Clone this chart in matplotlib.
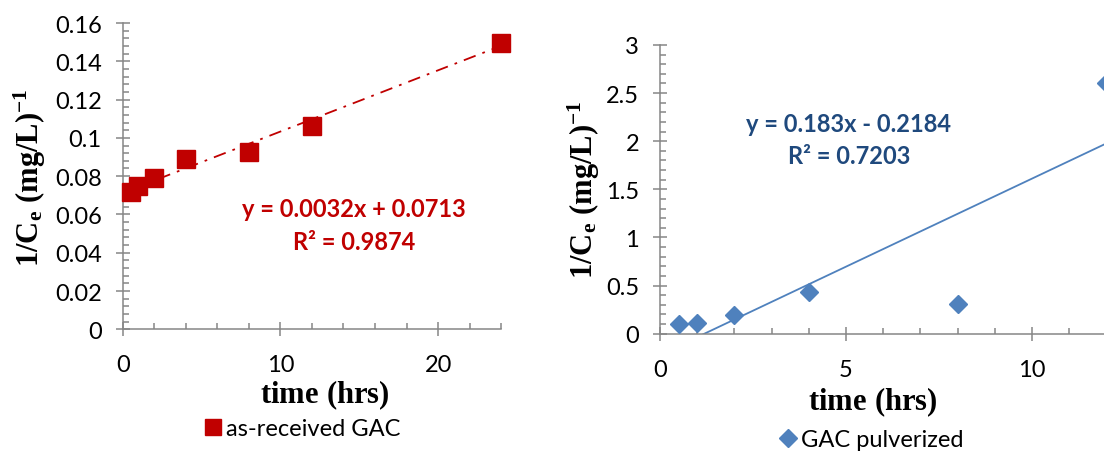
import numpy as np
import matplotlib.pyplot as plt
from matplotlib.ticker import MultipleLocator, FuncFormatter

plt.rcParams['font.family'] = ['Lato', 'DejaVu Sans']
plt.rcParams['mathtext.fontset'] = 'custom'
plt.rcParams['mathtext.rm'] = 'Liberation Serif:bold'
plt.rcParams['mathtext.bf'] = 'Liberation Serif:bold'
plt.rcParams['mathtext.it'] = 'Liberation Serif:bold'

# as-received GAC
t_recv = [0.5, 1, 2, 4, 8, 12, 24]
inv_ce_recv = [0.0717, 0.0747, 0.0792, 0.0888, 0.0926, 0.1061, 0.1496]
fit_recv = (0.0032, 0.0713)
eq_recv = ["y = 0.0032x + 0.0713", "R² = 0.9874"]

# GAC pulverized
t_pulv = [0.5, 1, 2, 4, 8, 12]
inv_ce_pulv = [0.097, 0.115, 0.19, 0.43, 0.31, 2.6]
fit_pulv = (0.183, -0.2184)
eq_pulv = ["y = 0.183x - 0.2184", "R² = 0.7203"]

red = '#C00000'
blue = '#4F81BD'
dblue = '#1F497D'
axcol = '#868686'

W, H = 1104, 452
fig = plt.figure(figsize=(W / 100, H / 100), dpi=100)


def px(x0, y0, x1, y1):
    # pixel box (left, top, right, bottom) -> figure fraction rect
    return [x0 / W, 1 - y1 / H, (x1 - x0) / W, (y1 - y0) / H]


def style_axes(ax, xmaj, xmin, ymaj, ymin):
    for s in ['top', 'right']:
        ax.spines[s].set_visible(False)
    for s in ['left', 'bottom']:
        ax.spines[s].set_color(axcol)
        ax.spines[s].set_linewidth(1.1)
    ax.xaxis.set_major_locator(MultipleLocator(xmaj))
    ax.xaxis.set_minor_locator(MultipleLocator(xmin))
    ax.yaxis.set_major_locator(MultipleLocator(ymaj))
    ax.yaxis.set_minor_locator(MultipleLocator(ymin))
    ax.yaxis.set_major_formatter(FuncFormatter(lambda v, p: '%g' % v))
    ax.tick_params(which='major', direction='inout', length=10, width=1.1,
                   color=axcol, labelsize=17, labelcolor='black')
    ax.tick_params(axis='y', which='major', pad=10)
    ax.tick_params(axis='x', which='major', pad=13)
    ax.tick_params(which='minor', direction='in', length=4.5, width=1.1, color=axcol)


ylab = r'$\mathrm{1/C_e\ (mg/L)^{-1}}$'
xlab = r'$\mathrm{time\ (hrs)}$'

# left panel
ax1 = fig.add_axes(px(122.7, 24, 501.2, 330.3))
style_axes(ax1, 10, 2, 0.02, 0.004)
ax1.set_xlim(0, 24)
ax1.set_ylim(0, 0.16)
xf = np.array([min(t_recv), max(t_recv)])
ax1.plot(xf, fit_recv[0] * xf + fit_recv[1], color=red, lw=1.3,
         linestyle=(0, (7, 4, 1.5, 4)), zorder=2)
ax1.plot(t_recv, inv_ce_recv, linestyle='none', marker='s', markersize=13.5,
         color=red, markeredgecolor=red, label='as-received GAC', zorder=3, clip_on=False)
fig.text(354 / W, 1 - 210 / H, eq_recv[0], ha='center', va='center',
         color=red, fontsize=17, fontweight='bold')
fig.text(354 / W, 1 - 243 / H, eq_recv[1], ha='center', va='center',
         color=red, fontsize=17, fontweight='bold')
fig.text(325 / W, 1 - 395 / H, xlab, ha='center', va='center', fontsize=22)
fig.text(30 / W, 1 - 178 / H, ylab, ha='center', va='center', rotation=90, fontsize=22)
fig.legend(handles=ax1.get_lines()[1:], loc='center', bbox_to_anchor=(302 / W, 1 - 430 / H),
           frameon=False, fontsize=17, handlelength=0.8, handletextpad=0.15,
           markerscale=0.85, borderpad=0)

# right panel (x axis runs past the right edge of the picture)
ax2 = fig.add_axes(px(660, 46, 660 + 14 * 37.2, 334.7))
style_axes(ax2, 5, 1, 0.5, 0.1)
ax2.set_xlim(0, 14)
ax2.set_ylim(0, 3)
xf2 = np.linspace(min(t_pulv), 14, 50)
ax2.plot(xf2, fit_pulv[0] * xf2 + fit_pulv[1], color=blue, lw=1.3, zorder=2)
ax2.plot(t_pulv, inv_ce_pulv, linestyle='none', marker='D', markersize=9.5,
         color=blue, markeredgecolor=blue, label='GAC pulverized', zorder=3, clip_on=False)
fig.text(849 / W, 1 - 124 / H, eq_pulv[0], ha='center', va='center',
         color=dblue, fontsize=17, fontweight='bold')
fig.text(849 / W, 1 - 156 / H, eq_pulv[1], ha='center', va='center',
         color=dblue, fontsize=17, fontweight='bold')
fig.text(873 / W, 1 - 402 / H, xlab, ha='center', va='center', fontsize=22)
fig.text(584 / W, 1 - 190 / H, ylab, ha='center', va='center', rotation=90, fontsize=22)
fig.legend(handles=ax2.get_lines()[1:], loc='center', bbox_to_anchor=(871 / W, 1 - 441 / H),
           frameon=False, fontsize=17, handlelength=0.8, handletextpad=0.15,
           markerscale=1.0, borderpad=0)

fig.savefig('out.png', dpi=100)
